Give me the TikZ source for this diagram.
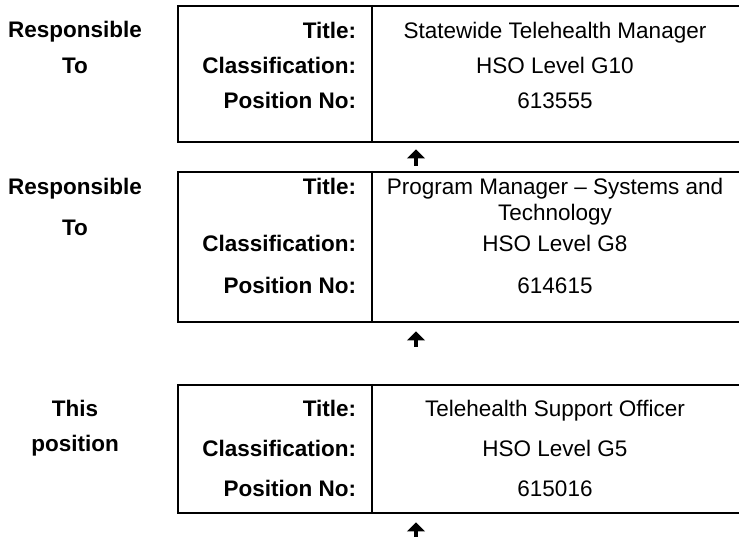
\documentclass[tikz,border=0pt]{standalone}
\usepackage{fontspec}
\setmainfont{Liberation Sans}
\usetikzlibrary{arrows.meta, positioning}

\begin{document}
\begin{tikzpicture}[
  x=0.6pt, y=-0.6pt,
  font=\fontsize{13.5}{15.5}\selectfont,
  posbox/.style={
    draw,
    line width=1.4pt,
    inner sep=0pt,
    anchor=north west,
    minimum width=340.8pt
  },
  divline/.style={line width=1pt},
  fieldlbl/.style={font=\fontsize{13.5}{15.5}\selectfont\bfseries, anchor=east,
    text height=0.72em, text depth=0pt},
  fieldval/.style={anchor=center, align=center, text height=0.72em, text depth=0pt},
  sidelbl/.style={font=\fontsize{13.5}{15.5}\selectfont\bfseries, anchor=center,
    text height=0.72em, text depth=0pt},
  uparrow/.style={-{Triangle[length=5.5pt, width=10.5pt]}, line width=2.8pt}
]
\useasboundingbox (0,0) rectangle (739,540);

% boxes, right edge runs off the page
\node[posbox, minimum height=81.6pt] (box1) at (177,5) {};
\node[posbox, minimum height=90pt] (box2) at (177,171) {};
\node[posbox, minimum height=76.8pt] (box3) at (177,384) {};

\coordinate (divx) at (372,0);
\draw[divline] (box1.north -| divx) -- (box1.south -| divx);
\draw[divline] (box2.north -| divx) -- (box2.south -| divx);
\draw[divline] (box3.north -| divx) -- (box3.south -| divx);

% side labels
\node[sidelbl] (resp1a) at (75,32) {Responsible};
\node[sidelbl] (resp1b) at (75,68) {To};
\node[sidelbl] (resp2a) at (75,189) {Responsible};
\node[sidelbl] (resp2b) at (75,230) {To};
\node[sidelbl] (thisa) at (75,411) {This};
\node[sidelbl] (thisb) at (75,446) {position};

% box 1
\node[fieldlbl] (t1) at (362,33) {Title:};
\node[fieldlbl] (c1) at (362,68) {Classification:};
\node[fieldlbl] (p1) at (362,103) {Position No:};
\node[fieldval] (t1v) at (555,33) {Statewide Telehealth Manager};
\node[fieldval] (c1v) at (555,68) {HSO Level G10};
\node[fieldval] (p1v) at (555,103) {613555};

% box 2
\node[fieldlbl] (t2) at (362,189) {Title:};
\node[fieldlbl] (c2) at (362,246) {Classification:};
\node[fieldlbl] (p2) at (362,288) {Position No:};
\node[anchor=center, align=center] (t2v) at (555,202) {Program Manager -- Systems and\\Technology};
\node[fieldval] (c2v) at (555,246) {HSO Level G8};
\node[fieldval] (p2v) at (555,288) {614615};

% box 3
\node[fieldlbl] (t3) at (362,411) {Title:};
\node[fieldlbl] (c3) at (362,451) {Classification:};
\node[fieldlbl] (p3) at (362,491) {Position No:};
\node[fieldval] (t3v) at (555,411) {Telehealth Support Officer};
\node[fieldval] (c3v) at (555,451) {HSO Level G5};
\node[fieldval] (p3v) at (555,491) {615016};

% arrows
\coordinate (a1) at (416,166);
\coordinate (a2) at (416,347);
\coordinate (a3) at (416,537);
\draw[uparrow, shorten >=3.6pt] (a1) -- (a1 |- box1.south);
\draw[uparrow, shorten >=4.8pt] (a2) -- (a2 |- box2.south);
\draw[uparrow, shorten >=4.8pt] (a3) -- (a3 |- box3.south);

\end{tikzpicture}
\end{document}
